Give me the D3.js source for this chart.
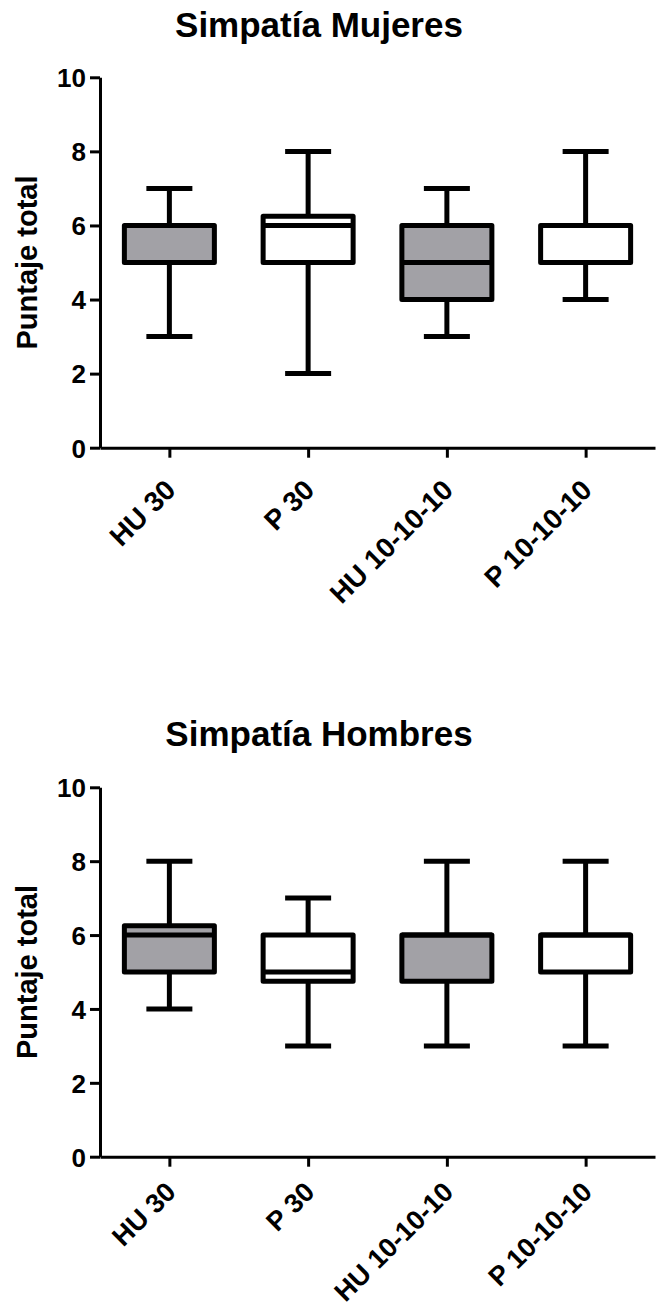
<!DOCTYPE html>
<html>
<head>
<meta charset="utf-8">
<script src="https://cdn.jsdelivr.net/npm/d3@7"></script>
<style>
html,body{margin:0;padding:0;background:#fff;}
svg{display:block;}
text{font-family:Arial,"Liberation Sans",sans-serif;font-weight:bold;fill:#000;}
</style>
</head>
<body>
<script>
const categories = ["HU 30", "P 30", "HU 10-10-10", "P 10-10-10"];
const boxFills = ["#a2a1a6", "#ffffff", "#a2a1a6", "#ffffff"];
const yTicks = [0, 2, 4, 6, 8, 10];

// Simpatía Mujeres
const mujeresMin = [3, 2, 3, 4];
const mujeresQ1 = [5, 5, 4, 5];
const mujeresMedian = [5, 6, 5, 5];
const mujeresQ3 = [6, 6.25, 6, 6];
const mujeresMax = [7, 8, 7, 8];

// Simpatía Hombres
const hombresMin = [4, 3, 3, 3];
const hombresQ1 = [5, 4.75, 4.75, 5];
const hombresMedian = [6, 5, 6, 6];
const hombresQ3 = [6.25, 6, 6, 6];
const hombresMax = [8, 7, 8, 8];

const W = 663, H = 1309;
const svg = d3.select("body").append("svg").attr("width", W).attr("height", H);

function drawPanel(cfg) {
  const g = svg.append("g");
  const x = d3.scalePoint().domain(categories).range([cfg.left, cfg.right]).padding(0.5);
  const y = d3.scaleLinear().domain([0, 10]).range([cfg.bottom, cfg.top]);

  g.append("text").attr("x", cfg.titleX).attr("y", cfg.titleY)
    .attr("text-anchor", "middle").style("font-size", "35px").text(cfg.title);

  // y axis
  const ya = g.append("g").attr("transform", `translate(${cfg.left},0)`)
    .call(d3.axisLeft(y).tickValues(yTicks).tickSize(10).tickPadding(4).tickSizeOuter(0));
  ya.select(".domain").attr("stroke", "#000").attr("stroke-width", 3);
  ya.selectAll(".tick line").attr("stroke", "#000").attr("stroke-width", 3);
  ya.selectAll(".tick text").style("font-size", "26px").style("font-family", "Arial,'Liberation Sans',sans-serif")
    .style("font-weight", "bold").attr("dy", "0.36em");

  // x axis
  const xa = g.append("g").attr("transform", `translate(0,${cfg.bottom})`)
    .call(d3.axisBottom(x).tickSize(10).tickSizeOuter(0));
  xa.select(".domain").attr("stroke", "#000").attr("stroke-width", 3);
  xa.selectAll(".tick line").attr("stroke", "#000").attr("stroke-width", 3);
  xa.selectAll(".tick text").remove();
  g.selectAll(".cat").data(categories).enter().append("text")
    .attr("class", "cat")
    .attr("transform", d => `translate(${x(d) + 8},${cfg.bottom + cfg.catDy}) rotate(-45)`)
    .attr("text-anchor", "end").style("font-size", cfg.catSize + "px").text(d => d);

  // y label
  g.append("text").attr("transform", `translate(${cfg.ylabX},${(cfg.top + cfg.bottom) / 2}) rotate(-90)`)
    .attr("text-anchor", "middle").style("font-size", "29px").text("Puntaje total");

  const bw = 90, cw = 46;
  const data = categories.map((c, i) => ({
    c, min: cfg.min[i], q1: cfg.q1[i], med: cfg.med[i], q3: cfg.q3[i], max: cfg.max[i], fill: boxFills[i]
  }));
  const bx = g.selectAll(".bx").data(data).enter().append("g");
  // whiskers
  bx.append("line").attr("x1", d => x(d.c)).attr("x2", d => x(d.c))
    .attr("y1", d => y(d.max)).attr("y2", d => y(d.q3)).attr("stroke", "#000").attr("stroke-width", 5);
  bx.append("line").attr("x1", d => x(d.c)).attr("x2", d => x(d.c))
    .attr("y1", d => y(d.q1)).attr("y2", d => y(d.min)).attr("stroke", "#000").attr("stroke-width", 5);
  // caps
  bx.append("line").attr("x1", d => x(d.c) - cw / 2).attr("x2", d => x(d.c) + cw / 2)
    .attr("y1", d => y(d.max)).attr("y2", d => y(d.max)).attr("stroke", "#000").attr("stroke-width", 5);
  bx.append("line").attr("x1", d => x(d.c) - cw / 2).attr("x2", d => x(d.c) + cw / 2)
    .attr("y1", d => y(d.min)).attr("y2", d => y(d.min)).attr("stroke", "#000").attr("stroke-width", 5);
  // box
  bx.append("rect").attr("x", d => x(d.c) - bw / 2).attr("width", bw)
    .attr("y", d => y(d.q3)).attr("height", d => y(d.q1) - y(d.q3))
    .attr("fill", d => d.fill).attr("stroke", "#000").attr("stroke-width", 5)
    .attr("stroke-linejoin", "round");
  // median
  bx.append("line").attr("x1", d => x(d.c) - bw / 2).attr("x2", d => x(d.c) + bw / 2)
    .attr("y1", d => y(d.med)).attr("y2", d => y(d.med)).attr("stroke", "#000").attr("stroke-width", 5);
}

drawPanel({
  title: "Simpatía Mujeres", titleX: 319, titleY: 37,
  left: 100, right: 655, top: 77.3, bottom: 447.7, ylabX: 37, catSize: 28, catDy: 44,
  min: mujeresMin, q1: mujeresQ1, med: mujeresMedian, q3: mujeresQ3, max: mujeresMax
});
drawPanel({
  title: "Simpatía Hombres", titleX: 319, titleY: 746,
  left: 100, right: 655, top: 787.3, bottom: 1156.7, ylabX: 37, catSize: 27, catDy: 37,
  min: hombresMin, q1: hombresQ1, med: hombresMedian, q3: hombresQ3, max: hombresMax
});
</script>
</body>
</html>
